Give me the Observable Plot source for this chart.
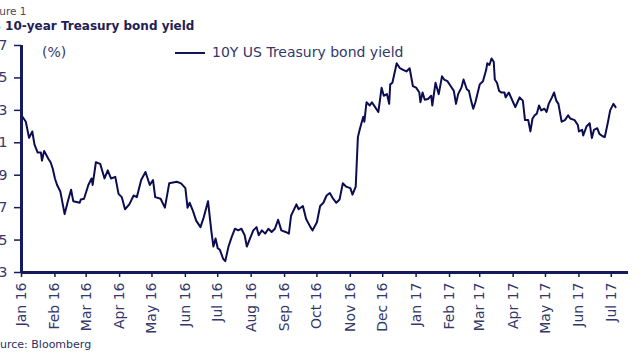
<!DOCTYPE html>
<html>
<head>
<meta charset="utf-8">
<script src="https://cdn.jsdelivr.net/npm/d3@7"></script>
<script src="https://cdn.jsdelivr.net/npm/@observablehq/plot@0.6"></script>
<style>
  html, body { margin: 0; padding: 0; background: #fff; overflow: hidden; }
  #wrap { position: relative; width: 640px; height: 360px; overflow: hidden; font-family: "DejaVu Sans", sans-serif; }
  .abs { position: absolute; white-space: nowrap; }
  #fig { left: -15.6px; top: 6px; font-size: 10.5px; line-height: 10.5px; color: #4a4a5a; }
  #title { left: -17.5px; top: 20px; font-size: 12px; line-height: 12px; font-weight: bold; color: #1e2055; }
  #unit { left: 42px; top: 45px; font-size: 14px; line-height: 14px; color: #33376a; }
  #legline { left: 175px; top: 52px; width: 30px; height: 2px; background: #12145a; }
  #legtext { left: 212px; top: 45px; font-size: 14px; line-height: 14px; color: #33376a; }
  #source { left: -13.7px; top: 339px; font-size: 11px; line-height: 11px; color: #2c3060; }
  #chart { position: absolute; left: 0; top: 36px; }
</style>
</head>
<body>
<div id="wrap">
  <div class="abs" id="fig">Figure 1</div>
  <div class="abs" id="title">US 10-year Treasury bond yield</div>
  <div id="chart"></div>
  <div class="abs" id="unit">(%)</div>
  <div class="abs" id="legline"></div>
  <div class="abs" id="legtext">10Y US Treasury bond yield</div>
  <div class="abs" id="source">Source: Bloomberg</div>
</div>
<script>
const seriesName = "10Y US Treasury bond yield";
const dates = [
  "2016-01-01","2016-01-05","2016-01-08","2016-01-11","2016-01-13","2016-01-16","2016-01-19","2016-01-20","2016-01-22","2016-01-26",
  "2016-01-28","2016-01-30","2016-02-01","2016-02-03","2016-02-06","2016-02-10","2016-02-13","2016-02-16","2016-02-18","2016-02-24",
  "2016-02-25","2016-02-28","2016-03-03","2016-03-06","2016-03-07","2016-03-10","2016-03-14","2016-03-18","2016-03-21","2016-03-24",
  "2016-03-28","2016-03-31","2016-04-03","2016-04-06","2016-04-10","2016-04-14","2016-04-17","2016-04-21","2016-04-25","2016-04-29",
  "2016-05-02","2016-05-04","2016-05-09","2016-05-13","2016-05-17","2016-05-24","2016-05-28","2016-06-01","2016-06-03","2016-06-05",
  "2016-06-08","2016-06-11","2016-06-15","2016-06-18","2016-06-22","2016-06-25","2016-06-27","2016-06-29","2016-07-01","2016-07-03",
  "2016-07-06","2016-07-08","2016-07-11","2016-07-14","2016-07-17","2016-07-20","2016-07-23","2016-07-26","2016-07-28","2016-07-31",
  "2016-08-03","2016-08-06","2016-08-08","2016-08-11","2016-08-14","2016-08-17","2016-08-20","2016-08-23","2016-08-26","2016-08-29",
  "2016-09-02","2016-09-05","2016-09-07","2016-09-12","2016-09-14","2016-09-18","2016-09-21","2016-09-25","2016-09-27","2016-10-01",
  "2016-10-04","2016-10-07","2016-10-10","2016-10-13","2016-10-16","2016-10-19","2016-10-22","2016-10-25","2016-10-28","2016-11-01",
  "2016-11-03","2016-11-06","2016-11-08","2016-11-10","2016-11-13","2016-11-14","2016-11-16","2016-11-19","2016-11-21","2016-11-24",
  "2016-11-27","2016-11-30","2016-12-02","2016-12-05","2016-12-07","2016-12-08","2016-12-10","2016-12-14","2016-12-17","2016-12-20",
  "2016-12-23","2016-12-26","2016-12-29","2017-01-01","2017-01-04","2017-01-05","2017-01-07","2017-01-09","2017-01-12","2017-01-15",
  "2017-01-16","2017-01-19","2017-01-22","2017-01-25","2017-01-27","2017-01-30","2017-02-02","2017-02-05","2017-02-07","2017-02-09",
  "2017-02-12","2017-02-14","2017-02-17","2017-02-19","2017-02-21","2017-02-23","2017-02-25","2017-03-01","2017-03-04","2017-03-07",
  "2017-03-08","2017-03-10","2017-03-12","2017-03-14","2017-03-15","2017-03-17","2017-03-19","2017-03-21","2017-03-24","2017-03-25",
  "2017-03-28","2017-03-30","2017-04-01","2017-04-03","2017-04-05","2017-04-07","2017-04-10","2017-04-12","2017-04-15","2017-04-17",
  "2017-04-19","2017-04-21","2017-04-23","2017-04-25","2017-04-27","2017-04-30","2017-05-02","2017-05-04","2017-05-07","2017-05-09",
  "2017-05-11","2017-05-13","2017-05-16","2017-05-19","2017-05-22","2017-05-24","2017-05-28","2017-05-31","2017-06-01","2017-06-04",
  "2017-06-05","2017-06-08","2017-06-11","2017-06-13","2017-06-15","2017-06-18","2017-06-20","2017-06-23","2017-06-25","2017-06-28",
  "2017-06-30","2017-07-03","2017-07-05"
];
const yields = [
  2.27,2.23,2.13,2.17,2.09,2.04,2.04,1.99,2.05,2.00,
  1.98,1.94,1.88,1.84,1.80,1.66,1.74,1.81,1.74,1.73,
  1.75,1.755,1.84,1.88,1.84,1.98,1.97,1.88,1.93,1.88,
  1.89,1.785,1.765,1.69,1.72,1.775,1.765,1.87,1.92,1.84,
  1.87,1.765,1.755,1.70,1.85,1.86,1.85,1.82,1.70,1.73,
  1.68,1.62,1.58,1.64,1.74,1.56,1.46,1.51,1.45,1.44,
  1.385,1.37,1.46,1.52,1.57,1.56,1.57,1.53,1.46,1.51,
  1.56,1.58,1.53,1.56,1.54,1.57,1.55,1.57,1.625,1.56,
  1.55,1.54,1.65,1.72,1.69,1.71,1.63,1.58,1.56,1.61,
  1.71,1.73,1.775,1.79,1.755,1.73,1.75,1.85,1.83,1.82,
  1.78,1.83,2.135,2.19,2.26,2.23,2.35,2.33,2.35,2.32,
  2.29,2.44,2.39,2.40,2.34,2.46,2.47,2.59,2.56,2.55,
  2.54,2.56,2.45,2.44,2.41,2.35,2.41,2.365,2.37,2.39,
  2.33,2.47,2.40,2.51,2.49,2.48,2.45,2.42,2.34,2.40,
  2.44,2.49,2.43,2.42,2.36,2.31,2.35,2.46,2.48,2.55,
  2.59,2.58,2.62,2.60,2.49,2.47,2.42,2.41,2.41,2.38,
  2.41,2.38,2.35,2.32,2.35,2.38,2.36,2.24,2.24,2.17,
  2.25,2.27,2.28,2.33,2.30,2.31,2.29,2.34,2.38,2.41,
  2.36,2.34,2.23,2.24,2.27,2.25,2.24,2.21,2.17,2.18,
  2.145,2.20,2.22,2.13,2.18,2.19,2.155,2.14,2.135,2.23,
  2.30,2.34,2.32
];
const yTicks = [1.3, 1.5, 1.7, 1.9, 2.1, 2.3, 2.5, 2.7];
const xTickMonths = [
  "2016-01-01","2016-02-01","2016-03-01","2016-04-01","2016-05-01","2016-06-01","2016-07-01","2016-08-01","2016-09-01","2016-10-01",
  "2016-11-01","2016-12-01","2017-01-01","2017-02-01","2017-03-01","2017-04-01","2017-05-01","2017-06-01","2017-07-01"
];
const xDomain = ["2016-01-01", "2017-07-17"];
const yDomain = [1.3, 2.7];

const data = dates.map((d, i) => ({date: new Date(d + "T00:00:00Z"), value: yields[i], series: seriesName}));
const axisColor = "#151a5c";
const lineColor = "#0c0d50";
const textColor = "#33376a";

const chart = Plot.plot({
  width: 640,
  height: 298,
  marginTop: 9,
  marginBottom: 62,
  marginLeft: 21,
  marginRight: 12,
  style: {fontFamily: "DejaVu Sans, sans-serif", fontSize: "14px", color: textColor, background: "transparent"},
  x: {type: "utc", domain: xDomain.map(d => new Date(d + "T00:00:00Z"))},
  y: {domain: yDomain},
  marks: [
    Plot.axisY({ticks: yTicks, tickFormat: d3.format(".1f"), tickSize: 7, tickPadding: 7, label: null, stroke: axisColor, strokeWidth: 1.5, fill: textColor, fontSize: 14}),
    Plot.axisX({ticks: xTickMonths.map(d => new Date(d + "T00:00:00Z")), tickFormat: d3.utcFormat("%b %y"), tickRotate: -90, tickSize: 5, tickPadding: 5, label: null, stroke: axisColor, strokeWidth: 1.5, fill: textColor, fontSize: 14}),
    Plot.line(data, {x: "date", y: "value", stroke: lineColor, strokeWidth: 2, strokeLinejoin: "round"}),
    Plot.ruleX([new Date(xDomain[0] + "T00:00:00Z")], {stroke: axisColor, strokeWidth: 3}),
    Plot.ruleY([yDomain[0]], {stroke: axisColor, strokeWidth: 3})
  ]
});
document.getElementById("chart").appendChild(chart);
</script>
</body>
</html>
